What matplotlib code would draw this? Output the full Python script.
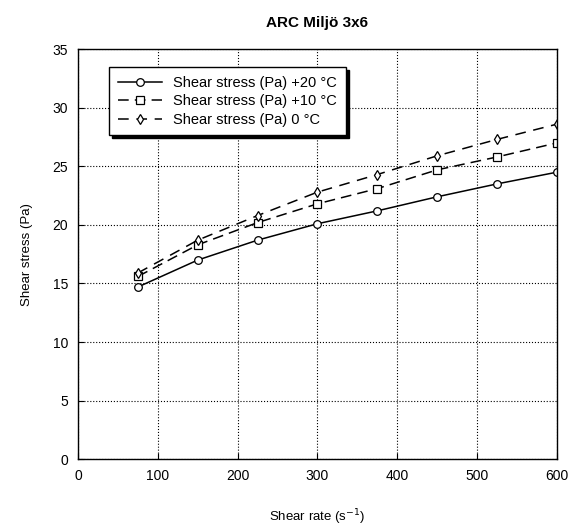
import matplotlib
matplotlib.use("Agg")
import matplotlib.pyplot as plt

plt.rcParams['font.family'] = ['Liberation Sans', 'DejaVu Sans']

# shear rate (1/s)
rate = [75, 150, 225, 300, 375, 450, 525, 600]

# shear stress (Pa) at three temperatures
stress_20 = [14.7, 17.0, 18.7, 20.1, 21.2, 22.4, 23.5, 24.5]
stress_10 = [15.6, 18.3, 20.2, 21.8, 23.1, 24.7, 25.8, 27.0]
stress_0 = [15.9, 18.7, 20.8, 22.8, 24.3, 25.9, 27.3, 28.6]

labels = ['Shear stress (Pa) +20 \u00b0C',
          'Shear stress (Pa) +10 \u00b0C',
          'Shear stress (Pa) 0 \u00b0C']

fig = plt.figure(figsize=(5.7, 5.29), dpi=100)
ax = fig.add_axes([0.137, 0.132, 0.840, 0.775])

mk = dict(markersize=5.5, markerfacecolor='white', markeredgecolor='black',
          markeredgewidth=0.9, color='black', linewidth=1.1)
ax.plot(rate, stress_20, '-', marker='o', label=labels[0], **mk)
ax.plot(rate, stress_10, '--', marker='s', label=labels[1], dashes=(7, 4), **mk)
ax.plot(rate, stress_0, '--', marker='d', label=labels[2], dashes=(7, 5), **mk)

ax.set_xlim(0, 600)
ax.set_ylim(0, 35)
ax.set_xticks(range(0, 601, 100))
ax.set_yticks(range(0, 36, 5))
ax.grid(True, linestyle=':', color='black', linewidth=0.8)
ax.tick_params(direction='in', labelsize=10, length=4, pad=7)
for s in ax.spines.values():
    s.set_linewidth(1.0)

ax.set_title('ARC Milj\u00f6 3x6', fontsize=11, fontweight='bold', pad=16)
ax.set_xlabel('Shear rate (s$^{-1}$)', fontsize=9.5, labelpad=18)
ax.set_ylabel('Shear stress (Pa)', fontsize=9.5, labelpad=14)

leg = ax.legend(loc='upper left', bbox_to_anchor=(0.065, 0.956), fontsize=10.5,
                fancybox=False, edgecolor='black', framealpha=1,
                shadow={'color': 'black', 'alpha': 1},
                handlelength=3.0, borderpad=0.6, labelspacing=0.3,
                borderaxespad=0)
leg.get_frame().set_linewidth(1.0)

fig.savefig('out.png', dpi=100)
